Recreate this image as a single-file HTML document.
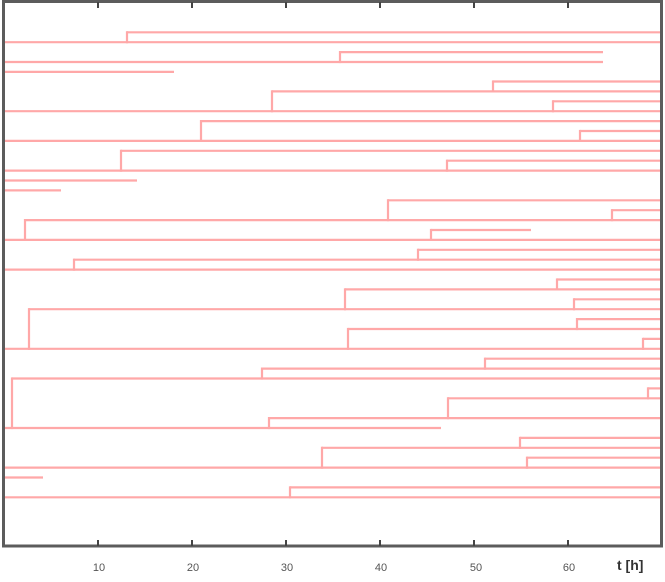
<!DOCTYPE html>
<html><head><meta charset="utf-8"><style>
html,body{margin:0;padding:0;background:#fff;}
svg{display:block;}
</style></head><body>
<svg width="665" height="582" viewBox="0 0 665 582" xmlns="http://www.w3.org/2000/svg">
<rect width="665" height="582" fill="#fff"/>
<g stroke="#ffa8a8" stroke-width="2.2" fill="none">
<line x1="127" y1="32.3" x2="661" y2="32.3"/>
<line x1="4" y1="42.2" x2="661" y2="42.2"/>
<line x1="340" y1="52.1" x2="603" y2="52.1"/>
<line x1="4" y1="62.0" x2="603" y2="62.0"/>
<line x1="4" y1="71.9" x2="174" y2="71.9"/>
<line x1="493" y1="81.5" x2="661" y2="81.5"/>
<line x1="272" y1="91.4" x2="661" y2="91.4"/>
<line x1="553" y1="101.3" x2="661" y2="101.3"/>
<line x1="4" y1="111.2" x2="661" y2="111.2"/>
<line x1="201" y1="121.1" x2="661" y2="121.1"/>
<line x1="580" y1="131.0" x2="661" y2="131.0"/>
<line x1="4" y1="140.9" x2="661" y2="140.9"/>
<line x1="121" y1="150.8" x2="661" y2="150.8"/>
<line x1="447" y1="160.7" x2="661" y2="160.7"/>
<line x1="4" y1="170.6" x2="661" y2="170.6"/>
<line x1="4" y1="180.5" x2="137" y2="180.5"/>
<line x1="4" y1="190.4" x2="61" y2="190.4"/>
<line x1="388" y1="200.3" x2="661" y2="200.3"/>
<line x1="612" y1="210.2" x2="661" y2="210.2"/>
<line x1="25" y1="220.1" x2="661" y2="220.1"/>
<line x1="431" y1="230.0" x2="531" y2="230.0"/>
<line x1="4" y1="239.9" x2="661" y2="239.9"/>
<line x1="418" y1="249.8" x2="661" y2="249.8"/>
<line x1="74" y1="259.7" x2="661" y2="259.7"/>
<line x1="4" y1="269.6" x2="661" y2="269.6"/>
<line x1="557" y1="279.5" x2="661" y2="279.5"/>
<line x1="345" y1="289.4" x2="661" y2="289.4"/>
<line x1="574" y1="299.3" x2="661" y2="299.3"/>
<line x1="29" y1="309.2" x2="661" y2="309.2"/>
<line x1="577" y1="319.1" x2="661" y2="319.1"/>
<line x1="348" y1="329.0" x2="661" y2="329.0"/>
<line x1="643" y1="338.9" x2="661" y2="338.9"/>
<line x1="4" y1="348.8" x2="661" y2="348.8"/>
<line x1="485" y1="358.7" x2="661" y2="358.7"/>
<line x1="262" y1="368.6" x2="661" y2="368.6"/>
<line x1="12" y1="378.5" x2="661" y2="378.5"/>
<line x1="648" y1="388.4" x2="661" y2="388.4"/>
<line x1="448" y1="398.3" x2="661" y2="398.3"/>
<line x1="269" y1="418.1" x2="661" y2="418.1"/>
<line x1="4" y1="428.0" x2="441" y2="428.0"/>
<line x1="520" y1="437.9" x2="661" y2="437.9"/>
<line x1="322" y1="447.8" x2="661" y2="447.8"/>
<line x1="527" y1="457.7" x2="661" y2="457.7"/>
<line x1="4" y1="467.6" x2="661" y2="467.6"/>
<line x1="4" y1="477.5" x2="43" y2="477.5"/>
<line x1="290" y1="487.4" x2="661" y2="487.4"/>
<line x1="4" y1="497.3" x2="661" y2="497.3"/>
<line x1="127" y1="31.2" x2="127" y2="43.3"/>
<line x1="340" y1="51" x2="340" y2="63.1"/>
<line x1="493" y1="80.4" x2="493" y2="92.5"/>
<line x1="272" y1="90.3" x2="272" y2="112.3"/>
<line x1="553" y1="100.2" x2="553" y2="112.3"/>
<line x1="201" y1="120" x2="201" y2="142"/>
<line x1="580" y1="129.9" x2="580" y2="142"/>
<line x1="121" y1="149.7" x2="121" y2="171.7"/>
<line x1="447" y1="159.6" x2="447" y2="171.7"/>
<line x1="388" y1="199.2" x2="388" y2="221.2"/>
<line x1="612" y1="209.1" x2="612" y2="221.2"/>
<line x1="25" y1="219" x2="25" y2="241"/>
<line x1="431" y1="228.9" x2="431" y2="241"/>
<line x1="418" y1="248.7" x2="418" y2="260.8"/>
<line x1="74" y1="258.6" x2="74" y2="270.7"/>
<line x1="557" y1="278.4" x2="557" y2="290.5"/>
<line x1="345" y1="288.3" x2="345" y2="310.3"/>
<line x1="574" y1="298.2" x2="574" y2="310.3"/>
<line x1="29" y1="308.1" x2="29" y2="349.9"/>
<line x1="577" y1="318" x2="577" y2="330.1"/>
<line x1="348" y1="327.9" x2="348" y2="349.9"/>
<line x1="643" y1="337.8" x2="643" y2="349.9"/>
<line x1="485" y1="357.6" x2="485" y2="369.7"/>
<line x1="262" y1="367.5" x2="262" y2="379.6"/>
<line x1="12" y1="377.4" x2="12" y2="429.1"/>
<line x1="648" y1="387.3" x2="648" y2="399.4"/>
<line x1="448" y1="397.2" x2="448" y2="419.2"/>
<line x1="269" y1="417" x2="269" y2="429.1"/>
<line x1="520" y1="436.8" x2="520" y2="448.9"/>
<line x1="322" y1="446.7" x2="322" y2="468.7"/>
<line x1="527" y1="456.6" x2="527" y2="468.7"/>
<line x1="290" y1="486.3" x2="290" y2="498.4"/>
</g>
<rect x="3.5" y="1.5" width="658" height="544.5" stroke="#5c5c5c" stroke-width="3" fill="none"/>
<g stroke="#444" stroke-width="2">
<line x1="98" y1="2" x2="98" y2="8"/>
<line x1="192" y1="2" x2="192" y2="8"/>
<line x1="286" y1="2" x2="286" y2="8"/>
<line x1="380" y1="2" x2="380" y2="8"/>
<line x1="474" y1="2" x2="474" y2="8"/>
<line x1="568" y1="2" x2="568" y2="8"/>
<line x1="98" y1="540" x2="98" y2="546"/>
<line x1="192" y1="540" x2="192" y2="546"/>
<line x1="286" y1="540" x2="286" y2="546"/>
<line x1="380" y1="540" x2="380" y2="546"/>
<line x1="474" y1="540" x2="474" y2="546"/>
<line x1="568" y1="540" x2="568" y2="546"/>
</g>
<g font-family="Liberation Sans, sans-serif" font-size="11" fill="#555" text-anchor="middle">
<text x="99" y="571">10</text>
<text x="193" y="571">20</text>
<text x="287" y="571">30</text>
<text x="381" y="571">40</text>
<text x="476" y="571">50</text>
<text x="569" y="571">60</text>
</g>
<text x="617" y="570" font-family="Liberation Sans, sans-serif" font-size="14" font-weight="bold" fill="#333">t [h]</text>
</svg>
</body></html>
